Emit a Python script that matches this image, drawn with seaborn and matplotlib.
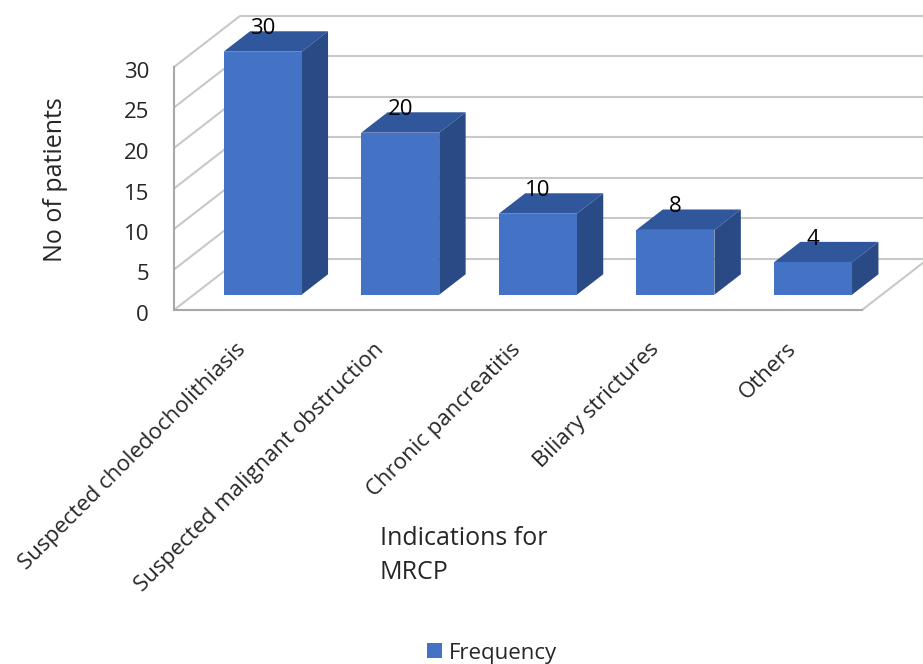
import matplotlib
matplotlib.use("Agg")
import matplotlib.pyplot as plt
import matplotlib.transforms as mtransforms
from matplotlib.patches import Polygon, Patch
import seaborn as sns

# Data
categories = [
    "Suspected choledocholithiasis",
    "Suspected malignant obstruction",
    "Chronic pancreatitis",
    "Biliary strictures",
    "Others",
]
frequency = [30, 20, 10, 8, 4]
y_ticks = [0, 5, 10, 15, 20, 25, 30]
series_name = "Frequency"

# Style
FRONT = "#4472C4"
TOP = "#30569C"
SIDE = "#294A85"
GRID = "#C8C8C8"
AXIS = "#A8A8A8"
TEXT = "#262626"

sns.set_theme(style="white")
plt.rcParams["font.family"] = ["Open Sans", "DejaVu Sans"]

fig = plt.figure(figsize=(9.23, 6.64), dpi=100)
W, H = 923, 664
# axes box = front plane of the 3-D box (floor front edge to the top tick)
ax = fig.add_axes([174 / W, (H - 310) / H, 688 / W, 243 / H])
ax.set_facecolor("none")

# depth of the box (in data units) and where the bars sit inside it
DX, DY = 0.48, 6.3
F0, FD = 0.30, 0.40
BAR_W = 0.567

sns.barplot(x=categories, y=frequency, color=FRONT, saturation=1,
            width=BAR_W, edgecolor="none", linewidth=0, ax=ax, zorder=5)

ax.set_xlim(-0.5, len(categories) - 0.5)
ax.set_ylim(0, max(y_ticks))

# back wall and left wall gridlines, floor edge
x0 = -0.5
x1 = len(categories) - 0.5
for v in y_ticks:
    ax.plot([x0 + DX, x1 + DX + 0.3], [v + DY, v + DY], color=GRID, lw=1.5,
            clip_on=False, zorder=1, solid_capstyle="butt")
    ax.plot([x0, x0 + DX], [v, v + DY], color=GRID, lw=1.5,
            clip_on=False, zorder=1)
ax.plot([x1, x1 + DX], [0, DY], color=GRID, lw=1.5, clip_on=False, zorder=1)

# 3-D bars: shift the front faces into the box, then add top and side faces
shift = mtransforms.Affine2D().translate(F0 * DX, F0 * DY)
for patch, val in zip(ax.patches, frequency):
    patch.set_transform(shift + ax.transData)
    patch.set_clip_on(False)
    xl = patch.get_x() + F0 * DX
    xr = xl + patch.get_width()
    yb = F0 * DY
    yt = yb + patch.get_height()
    ddx, ddy = FD * DX, FD * DY
    top = Polygon([(xl, yt), (xr, yt), (xr + ddx, yt + ddy), (xl + ddx, yt + ddy)],
                  closed=True, facecolor=TOP, edgecolor="none", zorder=4,
                  clip_on=False)
    side = Polygon([(xr, yb), (xr + ddx, yb + ddy), (xr + ddx, yt + ddy), (xr, yt)],
                   closed=True, facecolor=SIDE, edgecolor="none", zorder=4,
                   clip_on=False)
    ax.add_patch(top)
    ax.add_patch(side)
    cx = (xl + xr) / 2
    ax.annotate(f"{val}", xy=(cx, yt + ddy), xytext=(0, 2),
                textcoords="offset points", ha="center", va="center",
                fontsize=16, color="black", zorder=6, annotation_clip=False)

# spines
for s in ["top", "right"]:
    ax.spines[s].set_visible(False)
for s in ["left", "bottom"]:
    ax.spines[s].set_color(AXIS)
    ax.spines[s].set_linewidth(1.5)
    ax.spines[s].set_zorder(2)

ax.set_yticks(y_ticks)
ax.tick_params(axis="y", length=0, pad=18, labelsize=16, labelcolor=TEXT)
ax.tick_params(axis="x", length=0, pad=26, labelsize=16, labelcolor=TEXT)
ax.set_xticks(range(len(categories)))
ax.set_xticklabels(categories, rotation=45, ha="right", va="center",
                   rotation_mode="anchor")
down = mtransforms.ScaledTranslation(0, -3 / 100, fig.dpi_scale_trans)
for lbl in ax.get_yticklabels():
    lbl.set_transform(lbl.get_transform() + down)

ax.set_ylabel("No of patients", fontsize=18, color=TEXT, ha="center", va="center")
ax.yaxis.set_label_coords((56 - 174) / 688, (310 - 180) / 243)
ax.set_xlabel("Indications for\nMRCP", fontsize=18, color=TEXT, ha="left",
              va="top", multialignment="left", linespacing=1.45)
ax.xaxis.set_label_coords((380 - 174) / 688, (310 - 526) / 243)

handle = Patch(facecolor=FRONT, edgecolor="none")
fig.legend([handle], [series_name], loc="center",
           bbox_to_anchor=(492 / W, 1 - 653 / H), frameon=False,
           fontsize=16, handlelength=0.68, handleheight=0.68,
           handletextpad=0.3, labelcolor=TEXT)

fig.savefig("out.png", dpi=100, facecolor="white")
